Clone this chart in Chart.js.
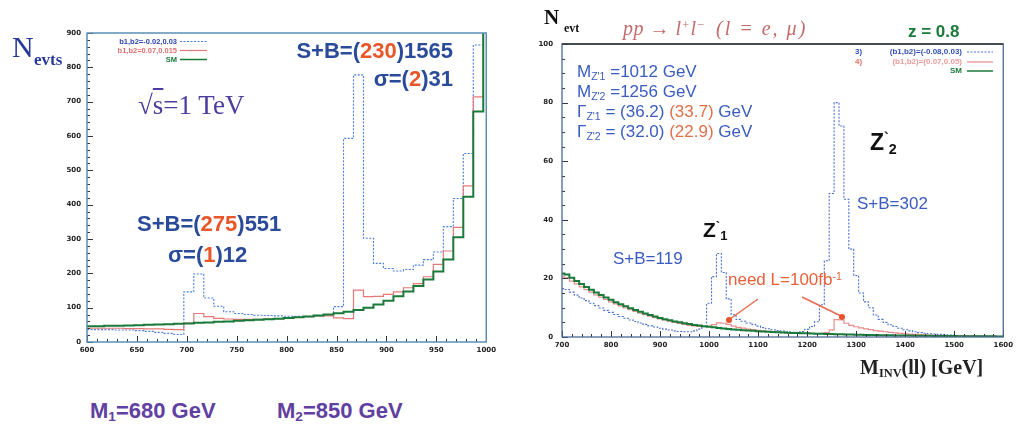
<!DOCTYPE html>
<html><head><meta charset="utf-8">
<script src="https://cdn.jsdelivr.net/npm/chart.js@4"></script>
<style>
body{margin:0;width:1017px;height:429px;background:#fff;position:relative;overflow:hidden;font-family:"Liberation Sans",Arial,sans-serif}
.box{position:absolute}
.t{position:absolute;white-space:nowrap;line-height:1}
.serif{font-family:"Liberation Serif","Times New Roman",serif}
.o{color:#e8562a}
.sb{font-size:0.62em;vertical-align:-0.25em}
.sp{font-size:0.62em;vertical-align:0.5em}
</style></head><body>

<div class="box" style="left:0;top:0;width:500px;height:380px"><canvas id="c1"></canvas></div>
<div class="box" style="left:500px;top:0;width:517px;height:380px"><canvas id="c2"></canvas></div>

<!-- left chart texts -->
<div class="t serif" style="left:12px;top:32px;font-size:30px;color:#2a3a9a">N</div>
<div class="t serif" style="left:34px;top:51px;font-size:17px;font-weight:bold;color:#2a3a9a">evts</div>
<div class="t" style="left:60px;top:38px;width:117px;text-align:right;font-size:7.5px;font-weight:bold;color:#2a45b0">b1,b2=-0.02,0.03</div>
<div class="t" style="left:60px;top:47px;width:117px;text-align:right;font-size:7.5px;font-weight:bold;color:#e07070">b1,b2=0.07,0.015</div>
<div class="t" style="left:60px;top:56px;width:117px;text-align:right;font-size:7.5px;font-weight:bold;color:#1a7a3a">SM</div>
<div class="t serif" style="left:138px;top:92px;font-size:27px;color:#4b3c9e">√<span style="text-decoration:overline">s</span>=1 TeV</div>
<div class="t" style="left:253px;top:40px;width:200px;text-align:right;font-size:22px;font-weight:bold;color:#2a4a9a">S+B=(<span class="o">230</span>)1565</div>
<div class="t" style="left:253px;top:68px;width:200px;text-align:right;font-size:22px;font-weight:bold;color:#2a4a9a">σ=(<span class="o">2</span>)31</div>
<div class="t" style="left:137px;top:213px;font-size:22px;font-weight:bold;color:#2a4a9a">S+B=(<span class="o">275</span>)551</div>
<div class="t" style="left:168px;top:244px;font-size:22px;font-weight:bold;color:#2a4a9a">σ=(<span class="o">1</span>)12</div>
<div class="t" style="left:90px;top:400px;font-size:22px;font-weight:bold;color:#6040a0">M<span class="sb">1</span>=680 GeV</div>
<div class="t" style="left:277px;top:400px;font-size:22px;font-weight:bold;color:#6040a0">M<span class="sb">2</span>=850 GeV</div>

<!-- right chart texts -->
<div class="t serif" style="left:544px;top:7px;font-size:21px;font-weight:bold;color:#111">N</div>
<div class="t serif" style="left:564px;top:22px;font-size:12px;font-weight:bold;color:#111">evt</div>
<div class="t serif" style="left:623px;top:18px;font-size:20px;font-style:italic;color:#c46a6a;letter-spacing:0.5px">pp → l<span class="sp">+</span>l<span class="sp">−</span></div>
<div class="t serif" style="left:716px;top:18px;font-size:20px;font-style:italic;color:#c46a6a;letter-spacing:2px">(l = e, μ)</div>
<div class="t" style="left:908px;top:23px;font-size:17px;font-weight:bold;color:#1a7a3a">z = 0.8</div>
<div class="t" style="left:855px;top:48px;font-size:8px;font-weight:bold;color:#3050b0">3)</div>
<div class="t" style="left:862px;top:48px;width:100px;text-align:right;font-size:8px;font-weight:bold;color:#3050b0">(b1,b2)=(-0.08,0.03)</div>
<div class="t" style="left:855px;top:58px;font-size:8px;font-weight:bold;color:#e07060">4)</div>
<div class="t" style="left:862px;top:58px;width:100px;text-align:right;font-size:8px;font-weight:bold;color:#eb9a9a">(b1,b2)=(0.07,0.05)</div>
<div class="t" style="left:862px;top:67px;width:100px;text-align:right;font-size:8px;font-weight:bold;color:#1a7a3a">SM</div>
<div class="t" style="left:577px;top:63px;font-size:17px;color:#3a5cc0">M<span class="sb">Z'1</span> =1012 GeV</div>
<div class="t" style="left:577px;top:83px;font-size:17px;color:#3a5cc0">M<span class="sb">Z'2</span> =1256 GeV</div>
<div class="t" style="left:577px;top:103px;font-size:17px;color:#3a5cc0">Γ<span class="sb">Z'1</span> = (36.2) <span style="color:#e0704a">(33.7)</span> GeV</div>
<div class="t" style="left:577px;top:123px;font-size:17px;color:#3a5cc0">Γ<span class="sb">Z'2</span> = (32.0) <span style="color:#e0704a">(22.9)</span> GeV</div>
<div class="t" style="left:870px;top:131px;font-size:23px;font-weight:bold;color:#111">Z<span class="sp">`</span><span class="sb">2</span></div>
<div class="t" style="left:703px;top:219px;font-size:21px;font-weight:bold;color:#111">Z<span class="sp">`</span><span class="sb">1</span></div>
<div class="t" style="left:857px;top:195px;font-size:17px;color:#3a5cc0">S+B=302</div>
<div class="t" style="left:613px;top:250px;font-size:17px;color:#3a5cc0">S+B=119</div>
<div class="t" style="left:728px;top:271px;font-size:17px;color:#e8603a">need L=100fb<span class="sp">-1</span></div>
<div class="t serif" style="left:860px;top:357px;font-size:20px;font-weight:bold;color:#222">M<span class="sb">INV</span>(ll) [GeV]</div>

<svg class="box" style="left:0;top:0" width="1017" height="429">
  <line x1="180" y1="41.5" x2="207" y2="41.5" stroke="#4a7ee0" stroke-width="1" stroke-dasharray="2,1.5"/>
  <line x1="180" y1="50.5" x2="207" y2="50.5" stroke="#e87878" stroke-width="1.2"/>
  <line x1="180" y1="59.5" x2="207" y2="59.5" stroke="#1a7a3a" stroke-width="1.5"/>
  <line x1="967" y1="52" x2="993" y2="52" stroke="#4a70d0" stroke-width="1" stroke-dasharray="2,1.5"/>
  <line x1="967" y1="62" x2="993" y2="62" stroke="#e88c8c" stroke-width="1.2"/>
  <line x1="967" y1="71" x2="993" y2="71" stroke="#1a7a3a" stroke-width="1.5"/>
  <line x1="758" y1="299" x2="730" y2="319" stroke="#e86a50" stroke-width="1.5"/>
  <circle cx="729" cy="320" r="3" fill="#e8502a"/>
  <line x1="802" y1="297" x2="841" y2="316" stroke="#e86a50" stroke-width="1.5"/>
  <circle cx="842" cy="317" r="3" fill="#e8502a"/>
</svg>

<script>
// ---------- LEFT CHART DATA (M_ll bins, GeV) ----------
const leftEdges = [600,607,617,627,637,647,657,667,677,687,697,707,717,727,737,747,757,767,777,787,797,807,817,827,837,847,857,867,877,887,897,907,917,927,937,947,957,967,977,987,997,1000];
const leftBlue  = [36,36,36,35,35,33,31,28,25,22,146,198,128,104,88,83,80,78,77,76,75,75,75,76,80,103,593,778,302,229,214,207,211,224,240,262,336,418,549,865,960];
const leftRed   = [40,40,40,40,39,39,38,38,37,36,55,83,74,69,67,66,66,66,67,68,70,72,74,76,76,70,68,151,132,133,139,146,158,170,190,226,265,334,455,714,960];
const leftSM    = [46,46,47,47,48,49,50,51,52,53,54,56,57,59,60,62,63,65,66,68,70,72,74,77,80,84,88,93,100,109,120,133,147,163,182,205,240,305,423,671,960];
const leftXTicks = [600,650,700,750,800,850,900,950,1000];
const leftYTicks = [0,100,200,300,400,500,600,700,800,900];

// ---------- RIGHT CHART DATA ----------
const rightEdges = [700,705,715,725,735,745,755,765,775,785,795,805,815,825,835,845,855,865,875,885,895,905,915,925,935,945,955,965,975,985,995,1005,1015,1025,1035,1045,1055,1065,1075,1085,1095,1105,1115,1125,1135,1145,1155,1165,1175,1185,1195,1205,1215,1225,1235,1245,1255,1265,1275,1285,1295,1305,1315,1325,1335,1345,1355,1365,1375,1385,1395,1405,1415,1425,1435,1445,1455,1465,1475,1485,1495,1505,1515,1525,1535,1545,1555,1565,1575,1585,1595,1600];
const rightBlue = [16.5,16.2,15.3,14.3,13.3,12.4,11.5,10.7,9.9,9.1,
  8.4,7.7,7.0,6.4,5.8,5.3,4.8,4.3,3.8,3.4,
  3.0,2.7,2.4,2.1,1.9,1.8,1.8,2.1,2.7,3.6,
  11.5,20.6,28.5,22,13,7.6,6.0,5.4,4.8,4.3,
  3.7,3.2,2.8,2.5,2.2,2.0,1.8,1.6,1.6,1.9,
  2.6,3.6,5.2,11,26,49,80,72,47,30,
  21,15,12,10,7.5,6.0,5.0,4.2,3.6,3.0,
  2.5,2.1,1.8,1.5,1.3,1.1,1.0,0.9,0.8,0.7,
  0.6,0.5,0.45,0.4,0.35,0.3,0.25,0.2,0.15,0.1,
  0.1];
const rightRed = [20.5,20.2,19.1,18.1,17.1,16.2,15.3,14.4,13.6,12.8,
  12.0,11.3,10.6,9.9,9.3,8.7,8.1,7.6,7.1,6.6,
  6.2,5.8,5.4,5.0,4.6,4.3,4.0,3.8,3.6,3.5,
  3.6,4.2,4.8,4.7,4.3,3.7,3.3,3.0,2.7,2.5,
  2.3,2.1,1.9,1.8,1.7,1.6,1.5,1.4,1.35,1.3,
  1.25,1.2,1.2,1.25,1.5,2.4,5.9,5.8,4.7,4.0,
  3.5,3.1,2.8,2.5,2.2,2.0,1.8,1.6,1.4,1.25,
  1.1,1.0,0.9,0.8,0.72,0.65,0.6,0.55,0.5,0.45,
  0.42,0.4,0.37,0.34,0.31,0.28,0.26,0.24,0.22,0.2,
  0.2];
const rightSM = [21.7,21.3,20.2,19.1,18.1,17.1,16.1,15.2,14.3,13.5,
  12.7,11.9,11.2,10.5,9.8,9.2,8.6,8.0,7.5,7.0,
  6.5,6.1,5.7,5.3,5.0,4.7,4.4,4.1,3.9,3.7,
  3.5,3.3,3.1,2.9,2.75,2.6,2.45,2.3,2.2,2.1,
  2.0,1.9,1.8,1.7,1.6,1.5,1.45,1.4,1.35,1.3,
  1.25,1.2,1.15,1.1,1.05,1.0,0.95,0.9,0.85,0.82,
  0.8,0.76,0.72,0.68,0.65,0.62,0.6,0.57,0.55,0.52,
  0.5,0.48,0.46,0.44,0.42,0.4,0.38,0.36,0.34,0.32,
  0.3,0.29,0.28,0.27,0.26,0.25,0.24,0.23,0.22,0.21,
  0.2];
const rightXTicks = [700,800,900,1000,1100,1200,1300,1400,1500,1600];
const rightYTicks = [0,20,40,60,80,100];

function hist(edges, vals){
  return edges.map((e,i)=>({x:e, y: vals[Math.min(i, vals.length-1)]}));
}

const framePlugin = {
  id:'frame',
  afterDatasetsDraw(chart, args, o){
    const {ctx, chartArea:a, scales:{x,y}} = chart;
    ctx.save();
    ctx.strokeStyle = o.tickColor; ctx.lineWidth = 1;
    ctx.beginPath();
    const nx = Math.round((o.xMax-o.xMin)/o.xMinor);
    for(let i=0;i<=nx;i++){
      const v = o.xMin + i*o.xMinor;
      const px = Math.round(x.getPixelForValue(v))+0.5;
      const len = (i % o.xPer === 0) ? o.majorLen : o.minorLen;
      ctx.moveTo(px, a.bottom); ctx.lineTo(px, a.bottom-len);
    }
    const ny = Math.round((o.yMax-o.yMin)/o.yMinor);
    for(let i=0;i<=ny;i++){
      const v = o.yMin + i*o.yMinor;
      const py = Math.round(y.getPixelForValue(v))+0.5;
      const len = (i % o.yPer === 0) ? o.majorLen : o.minorLen;
      ctx.moveTo(a.left, py); ctx.lineTo(a.left+len, py);
    }
    ctx.stroke();
    ctx.lineWidth = o.frameWidth;
    ctx.strokeStyle = o.frameColor;
    ctx.strokeRect(a.left, a.top, a.right-a.left, a.bottom-a.top);
    if(o.topColor){
      ctx.strokeStyle = o.topColor;
      ctx.beginPath(); ctx.moveTo(a.left, a.top); ctx.lineTo(a.right, a.top); ctx.stroke();
    }
    ctx.restore();
  }
};

function makeChart(id, cfg){
  const tickFont = {family:'"DejaVu Sans", sans-serif', size:7, weight:'bold'};
  return new Chart(document.getElementById(id), {
    type:'line',
    data:{datasets:[
      {data:hist(cfg.edges,cfg.sm), borderColor:cfg.smColor, borderWidth:2, stepped:'before', pointRadius:0, fill:false},
      {data:hist(cfg.edges,cfg.red), borderColor:cfg.redColor, borderWidth:1.2, stepped:'before', pointRadius:0, fill:false},
      {data:hist(cfg.edges,cfg.blue), borderColor:cfg.blueColor, borderWidth:1.1, borderDash:[2,1.5], stepped:'before', pointRadius:0, fill:false}
    ]},
    options:{
      responsive:true, maintainAspectRatio:false, animation:false,
      layout:{padding:cfg.padding},
      plugins:{legend:{display:false}, tooltip:{enabled:false}, frame:cfg.frame},
      scales:{
        x:{type:'linear', min:cfg.xTicks[0], max:cfg.xTicks[cfg.xTicks.length-1],
           afterBuildTicks(s){ s.ticks = cfg.xTicks.map(v=>({value:v})); },
           afterFit(s){ s.height = cfg.xH; },
           grid:{display:false, drawTicks:false}, border:{display:false},
           ticks:{font:tickFont, color:'#222', padding:cfg.xPad, maxRotation:0, autoSkip:false, callback:v=>String(v)}},
        y:{type:'linear', min:cfg.yTicks[0], max:cfg.yTicks[cfg.yTicks.length-1],
           afterBuildTicks(s){ s.ticks = cfg.yTicks.map(v=>({value:v})); },
           afterFit(s){ s.width = cfg.yW; },
           grid:{display:false, drawTicks:false}, border:{display:false},
           ticks:{font:tickFont, color:'#222', padding:cfg.yPad, callback:v=>String(v)}}
      }
    },
    plugins:[framePlugin]
  });
}

makeChart('c1', {
  edges:leftEdges, blue:leftBlue, red:leftRed, sm:leftSM,
  xTicks:leftXTicks, yTicks:leftYTicks,
  blueColor:'#4a7ee0', redColor:'#e87878', smColor:'#1a7a3a',
  padding:{left:0, top:33, right:11, bottom:20}, xH:18, yW:87, xPad:4, yPad:6,
  frame:{xMin:600,xMax:1000,xMinor:10,xPer:5,yMin:0,yMax:900,yMinor:20,yPer:5,majorLen:6,minorLen:3,
         tickColor:'#334', frameColor:'#5b8fb5', frameWidth:1.5}
});
makeChart('c2', {
  edges:rightEdges, blue:rightBlue, red:rightRed, sm:rightSM,
  xTicks:rightXTicks, yTicks:rightYTicks,
  blueColor:'#4a70d0', redColor:'#e88c8c', smColor:'#1a7a3a',
  padding:{left:0, top:44, right:12, bottom:27}, xH:16, yW:62, xPad:4, yPad:9,
  frame:{xMin:700,xMax:1600,xMinor:20,xPer:5,yMin:0,yMax:100,yMinor:5,yPer:4,majorLen:6,minorLen:3,
         tickColor:'#334', frameColor:'#4a6a90', frameWidth:1.3, topColor:'#333'}
});
</script>
</body></html>
